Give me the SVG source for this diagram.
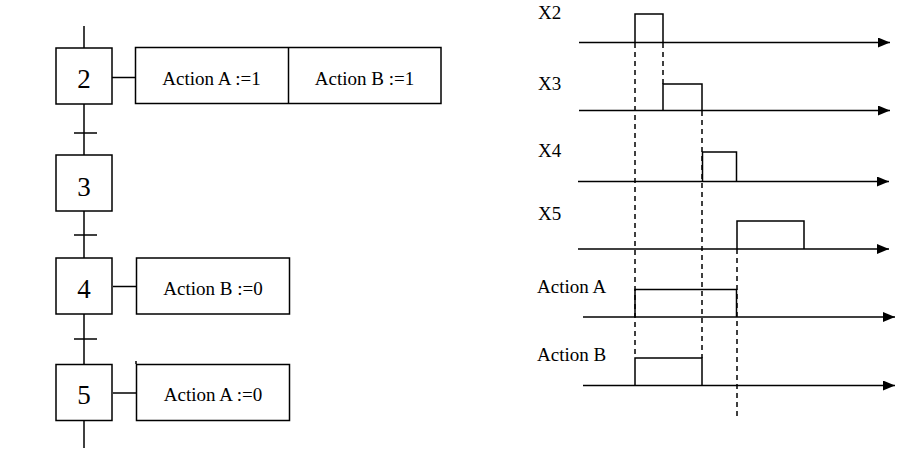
<svg xmlns="http://www.w3.org/2000/svg" width="908" height="466" viewBox="0 0 908 466">
<defs>
<style>
.ln{stroke:#000;stroke-width:1.5;fill:none}
.bx{stroke:#000;stroke-width:1.5;fill:#fff}
.ds{stroke:#000;stroke-width:1.5;fill:none;stroke-dasharray:5 4}
.num{font-family:"Liberation Serif","Times New Roman",serif;font-size:27px;text-anchor:middle;fill:#000}
.tx{font-family:"Liberation Serif","Times New Roman",serif;font-size:19px;fill:#000}
.mid{text-anchor:middle}
</style>
<marker id="ar" markerWidth="12" markerHeight="10" refX="12" refY="5" orient="auto" markerUnits="userSpaceOnUse">
<path d="M0,0 L12,5 L0,10 Z" fill="#000"/>
</marker>
</defs>
<rect width="908" height="466" fill="#fff"/>
<g id="connectors">
<line class="ln" x1="84" y1="26" x2="84" y2="448"/>
<line class="ln" x1="74" y1="133" x2="97" y2="133"/>
<line class="ln" x1="74" y1="235" x2="97" y2="235"/>
<line class="ln" x1="74" y1="339" x2="97" y2="339"/>
<line class="ln" x1="112" y1="77.5" x2="135" y2="77.5"/>
<line class="ln" x1="113" y1="286.5" x2="136" y2="286.5"/>
<line class="ln" x1="113" y1="393" x2="136" y2="393"/>
<line class="ln" x1="136" y1="361" x2="136" y2="364"/>
</g>
<g id="step2"><rect class="bx" x="56" y="48" width="56" height="56"/><text class="num" x="84" y="88">2</text></g>
<g id="step3"><rect class="bx" x="56" y="155" width="56" height="56"/><text class="num" x="84" y="195.5">3</text></g>
<g id="step4"><rect class="bx" x="56" y="258" width="56" height="56"/><text class="num" x="84" y="297.5">4</text></g>
<g id="step5"><rect class="bx" x="56" y="364.5" width="56" height="56"/><text class="num" x="84" y="403.5">5</text></g>
<g id="action2">
<rect class="bx" x="135.5" y="47.5" width="305.5" height="56"/>
<line class="ln" x1="288.5" y1="47.5" x2="288.5" y2="103.5"/>
<text class="tx mid" x="211.5" y="85">Action A :=1</text>
<text class="tx mid" x="364.5" y="85">Action B :=1</text>
</g>
<g id="action4"><rect class="bx" x="136.5" y="258" width="153" height="56"/><text class="tx mid" x="213" y="295">Action B :=0</text></g>
<g id="action5"><rect class="bx" x="136.5" y="364.5" width="153" height="56"/><text class="tx mid" x="213" y="401">Action A :=0</text></g>
<g id="chronogram">
<text class="tx" x="538" y="19">X2</text>
<text class="tx" x="538" y="90">X3</text>
<text class="tx" x="538" y="157">X4</text>
<text class="tx" x="538" y="220">X5</text>
<text class="tx" x="537" y="293">Action A</text>
<text class="tx" x="537" y="361">Action B</text>
<line class="ln" x1="579" y1="42.5" x2="890" y2="42.5" marker-end="url(#ar)"/>
<line class="ln" x1="579" y1="110.5" x2="890" y2="110.5" marker-end="url(#ar)"/>
<line class="ln" x1="578" y1="181.5" x2="889" y2="181.5" marker-end="url(#ar)"/>
<line class="ln" x1="578" y1="249" x2="889" y2="249" marker-end="url(#ar)"/>
<line class="ln" x1="583" y1="317" x2="895" y2="317" marker-end="url(#ar)"/>
<line class="ln" x1="583" y1="385.5" x2="895" y2="385.5" marker-end="url(#ar)"/>
<polyline class="ln" points="635,42.5 635,14 663,14 663,42.5"/>
<polyline class="ln" points="663,110.5 663,84 702,84 702,110.5"/>
<polyline class="ln" points="702.5,181.5 702.5,152 736.5,152 736.5,181.5"/>
<polyline class="ln" points="737,249 737,221 804,221 804,249"/>
<polyline class="ln" points="635,317 635,289.5 736.5,289.5 736.5,317"/>
<polyline class="ln" points="635,385.5 635,358 702,358 702,385.5"/>
<line class="ds" x1="635" y1="43" x2="635" y2="358"/>
<line class="ds" x1="663" y1="43" x2="663" y2="84"/>
<line class="ds" x1="702" y1="111" x2="702" y2="358"/>
<line class="ds" x1="737" y1="249" x2="737" y2="417"/>
</g>
</svg>
